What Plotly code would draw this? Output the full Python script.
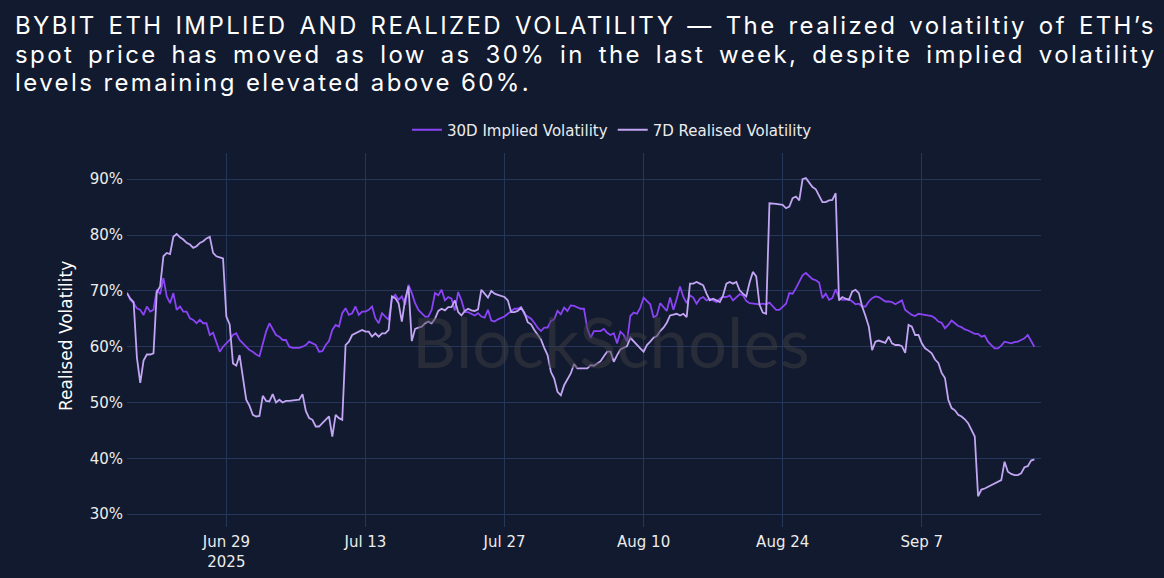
import plotly.graph_objects as go
import pandas as pd

# ---------------- data ----------------
START = "2025-06-19 00:00"
STEP = "8h"

IMPLIED = [
    69.7, 68.4, 67.8, 66.9, 66.6, 65.7, 67.2, 66.3, 66.6, 70.2,
    69.4, 72.3, 69.0, 67.8, 69.6, 66.6, 67.2, 66.3, 66.3, 65.1,
    64.8, 64.2, 64.8, 64.2, 64.2, 62.1, 62.5, 60.6, 59.1, 60.0,
    60.6, 61.2, 62.1, 62.4, 61.2, 60.6, 60.0, 59.4, 59.1, 58.6,
    58.3, 60.6, 62.7, 64.2, 63.0, 62.1, 61.8, 61.2, 61.2, 60.0,
    59.8, 59.8, 59.8, 60.0, 60.3, 60.9, 60.6, 60.3, 59.1, 59.2,
    60.3, 61.0, 63.0, 63.9, 63.6, 66.0, 66.9, 65.7, 66.0, 67.2,
    65.7, 66.3, 66.3, 66.6, 67.2, 65.1, 64.2, 66.0, 65.4, 64.8,
    68.6, 69.3, 68.4, 69.0, 67.5, 71.1, 69.6, 67.8, 66.6, 66.0,
    65.4, 65.4, 66.6, 69.6, 69.2, 70.2, 68.3, 68.9, 68.6, 66.5,
    69.8, 68.3, 66.2, 66.2, 65.9, 65.6, 66.0, 65.4, 65.2, 66.6,
    64.7, 64.5, 64.9, 65.2, 65.4, 65.9, 66.4, 66.8, 66.8, 67.1,
    65.8, 65.4, 65.0, 64.3, 63.4, 62.8, 63.4, 63.4, 64.6, 64.9,
    66.4, 65.8, 67.0, 66.4, 67.4, 67.3, 67.1, 66.8, 66.8, 63.2,
    61.6, 62.8, 62.8, 62.8, 63.2, 62.5, 62.1, 62.4, 60.6, 62.7,
    62.1, 60.9, 65.5, 66.1, 65.9, 67.0, 68.8, 68.2, 67.6, 65.3,
    65.6, 67.8, 67.0, 66.4, 68.8, 66.6, 68.6, 70.8, 68.9, 67.8,
    69.2, 68.8, 67.7, 68.6, 68.9, 68.3, 68.6, 68.3, 68.0, 68.6,
    68.9, 68.9, 69.2, 68.3, 68.9, 69.4, 69.2, 68.2, 67.8, 67.7,
    67.7, 67.6, 67.7, 67.6, 67.9, 67.2, 66.6, 66.6, 67.2, 67.7,
    69.6, 69.5, 70.5, 71.6, 72.8, 73.2, 72.6, 72.1, 71.9, 71.5,
    68.7, 69.5, 68.4, 68.7, 70.3, 68.7, 68.4, 68.5, 68.5, 68.1,
    67.6, 67.7, 67.2, 67.2, 68.1, 68.7, 69.0, 68.9, 68.5, 68.1,
    68.1, 68.0, 67.6, 67.9, 68.3, 66.6, 66.1, 65.7, 65.5, 65.9,
    65.8, 65.7, 65.7, 65.5, 65.1, 64.5, 64.3, 63.3, 63.9, 64.7,
    64.2, 63.7, 63.5, 63.1, 62.9, 62.6, 62.3, 62.3, 61.8, 62.0,
    60.9, 60.3, 59.7, 59.7, 60.2, 60.9, 60.8, 60.6, 60.8, 60.9,
    61.2, 61.5, 62.1, 60.9, 60.0,
]

REALISED = [
    69.6, 68.6, 68.0, 58.0, 53.5, 57.5, 58.6, 58.6, 58.8, 69.8,
    70.8, 76.2, 76.8, 76.6, 79.7, 80.2, 79.6, 79.2, 78.6, 78.3,
    77.7, 78.0, 78.6, 78.9, 79.4, 79.7, 76.8, 76.2, 76.0, 75.8,
    65.4, 64.0, 57.0, 56.6, 58.5, 54.4, 50.5, 49.4, 47.8, 47.5,
    47.6, 51.2, 50.3, 50.2, 51.5, 50.0, 50.5, 50.0, 50.3, 50.3,
    50.4, 50.4, 50.5, 51.5, 48.5, 47.2, 46.9, 45.7, 45.7, 46.3,
    46.9, 47.5, 43.9, 47.8, 47.2, 46.9, 60.3, 60.9, 62.1, 62.4,
    62.7, 63.0, 62.7, 62.7, 61.8, 62.4, 61.8, 62.4, 62.4, 63.0,
    69.0, 68.7, 67.8, 64.5, 68.5, 70.8, 61.0, 63.2, 63.4, 63.6,
    64.2, 64.5, 64.2, 65.0, 66.4, 66.8, 66.5, 67.1, 67.1, 68.3,
    66.2, 65.6, 66.4, 66.8, 66.5, 66.4, 66.7, 70.2, 69.5, 68.8,
    70.0, 69.5, 69.3, 69.1, 68.9, 68.3, 66.2, 66.2, 66.4, 67.0,
    66.1, 64.4, 64.0, 63.0, 62.2, 61.3, 59.8, 58.5, 55.5, 54.3,
    51.9, 51.3, 53.1, 54.3, 55.2, 56.9, 56.1, 56.1, 56.1, 56.1,
    56.7, 56.6, 57.0, 57.4, 58.3, 59.1, 59.1, 57.3, 58.5, 59.5,
    59.8, 60.1, 61.6, 60.9, 60.3, 59.7, 59.1, 60.3, 60.9, 61.6,
    61.9, 62.8, 63.4, 64.3, 65.6, 65.8, 65.9, 65.6, 65.9, 65.3,
    71.3, 71.3, 71.6, 71.3, 71.0, 69.5, 68.3, 68.6, 68.3, 68.0,
    69.2, 71.3, 71.6, 71.3, 71.6, 70.1, 69.5, 69.0, 71.5, 73.4,
    72.6, 67.5, 66.1, 65.9, 85.7, 85.7, 85.6, 85.5, 85.4, 84.8,
    85.1, 86.6, 86.9, 86.2, 90.0, 90.2, 89.4, 88.6, 88.2, 86.9,
    85.9, 85.9, 86.2, 86.3, 87.5, 68.3, 68.9, 68.6, 68.4, 69.9,
    70.2, 69.6, 67.2, 65.5, 63.6, 59.4, 60.9, 61.1, 60.9, 60.7,
    61.8, 60.6, 60.3, 60.3, 60.1, 58.9, 63.9, 63.6, 62.1, 62.1,
    60.6, 59.7, 59.3, 58.8, 57.7, 57.1, 55.3, 54.4, 50.5, 49.0,
    48.6, 47.8, 47.5, 47.0, 46.3, 45.1, 43.9, 33.2, 34.4, 34.6,
    34.9, 35.2, 35.6, 35.8, 36.1, 39.4, 37.6, 37.2, 37.0, 37.0,
    37.3, 38.4, 38.6, 39.6, 39.8,
]

SERIES_NAMES = ["30D Implied Volatility", "7D Realised Volatility"]
Y_TICKS = [30, 40, 50, 60, 70, 80, 90]
Y_TICK_TEXT = [f"{v}%" for v in Y_TICKS]
X_RANGE = ["2025-06-19", "2025-09-19"]
Y_RANGE = [27.7, 94.7]
Y_TITLE = "Realised Volatility"
TITLE_LINES = [
    "BYBIT ETH IMPLIED AND REALIZED VOLATILITY — The realized volatiltiy of ETH’s",
    "spot price has moved as low as 30% in the last week, despite implied volatility",
    "levels remaining elevated above 60%.",
]
WATERMARK = "BlockScholes"

# ---------------- figure ----------------
n = min(len(IMPLIED), len(REALISED))
times = pd.date_range(START, periods=n, freq=STEP)

OFF = 8  # page offset of the figure inside the browser window
W, H = 1164, 578
PLOT_L, PLOT_R, PLOT_T, PLOT_B = 127, 1041, 153, 527  # screen coords
L, T = PLOT_L - OFF, PLOT_T - OFF
R = W - (PLOT_R - OFF)
B = H - (PLOT_B - OFF)
PW, PH = W - L - R, H - T - B


def fx(px):
    return (px - OFF - L) / PW


def fy(py):
    return (H - B - (py - OFF)) / PH


BG = "rgb(17,26,46)"
GRID = "rgb(37,54,88)"
TXT = "#ececec"
FONT = "DejaVu Sans"

fig = go.Figure()
fig.add_trace(go.Scatter(x=times, y=IMPLIED[:n], name=SERIES_NAMES[0], mode="lines",
                         line=dict(color="#8a44f6", width=1.8)))
fig.add_trace(go.Scatter(x=times, y=REALISED[:n], name=SERIES_NAMES[1], mode="lines",
                         line=dict(color="#c2a5f3", width=1.8)))

annotations = []
title_specs = [
    (TITLE_LINES[0], 25.5, "letter-spacing:2.4px;word-spacing:2.8px"),
    (TITLE_LINES[1], 54.5, "letter-spacing:2.4px;word-spacing:4.7px"),
    (TITLE_LINES[2], 83.0, "letter-spacing:2.4px"),
]
for txt, cy, style in title_specs:
    annotations.append(dict(
        text=f'<span style="{style}">{txt}</span>',
        xref="paper", yref="paper", x=fx(13), y=fy(cy),
        xanchor="left", yanchor="middle", showarrow=False,
        font=dict(family="Inter", size=24, color="#ffffff"),
    ))

annotations.append(dict(
    text=Y_TITLE, xref="paper", yref="paper", x=fx(66), y=fy(336),
    xanchor="center", yanchor="middle", textangle=-90, showarrow=False,
    font=dict(family=FONT, size=17, color="#ffffff"),
))

annotations.append(dict(
    text=WATERMARK, xref="paper", yref="paper", x=fx(611), y=fy(341),
    xanchor="center", yanchor="middle", showarrow=False,
    font=dict(family="Lato", size=69, color="rgba(62,62,66,0.5)"),
))

fig.update_layout(
    width=W, height=H,
    margin=dict(l=L, r=R, t=T, b=B, pad=0),
    paper_bgcolor=BG, plot_bgcolor=BG,
    font=dict(family=FONT, size=15, color=TXT),
    showlegend=True,
    legend=dict(orientation="h", x=fx(612), xanchor="center", y=fy(130), yanchor="middle",
                font=dict(family=FONT, size=15, color=TXT), bgcolor="rgba(0,0,0,0)",
                itemwidth=30),
    annotations=annotations,
    xaxis=dict(range=X_RANGE, type="date", tick0="2025-06-29", dtick=14 * 86400000,
               showgrid=True, gridcolor=GRID, gridwidth=1, zeroline=False, showline=False,
               ticks="", ticklabelstandoff=4,
               tickfont=dict(family=FONT, size=15, color=TXT)),
    yaxis=dict(range=Y_RANGE, tickmode="array", tickvals=Y_TICKS, ticktext=Y_TICK_TEXT,
               showgrid=True, gridcolor=GRID, gridwidth=1, zeroline=False, showline=False,
               ticks="", ticklabelstandoff=3,
               tickfont=dict(family=FONT, size=15, color=TXT)),
    hovermode=False,
)

fig.write_html(
    "out.html",
    post_script="document.body.style.background='rgb(17,26,46)';"
                "document.documentElement.style.background='rgb(17,26,46)';",
)
